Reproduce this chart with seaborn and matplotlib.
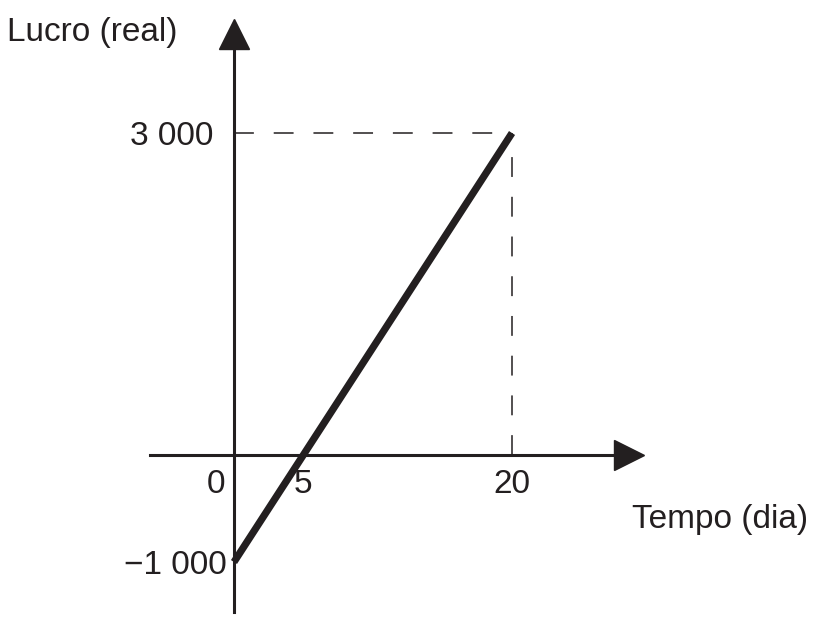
import matplotlib
matplotlib.use("Agg")
import matplotlib.pyplot as plt
import seaborn as sns
import pandas as pd

# Dados do gráfico
dias = [0, 20]
lucro = [-1000, 3000]
xticks = [5, 20]
xtick_labels = ["5", "20"]
yticks = [-1000, 3000]
ytick_labels = ["\u22121 000", "3 000"]

cor = "#231f20"

sns.set_style("white")
plt.rcParams["font.family"] = ["Liberation Sans", "DejaVu Sans"]

df = pd.DataFrame({"Tempo (dia)": dias, "Lucro (real)": lucro})

fig = plt.figure(figsize=(8.18, 6.22), dpi=100)
ax = fig.add_axes([0, 0, 1, 1])
ax.set_xlim(-16.83, 42.01)
ax.set_ylim(-1559.4, 4240.1)

# linhas tracejadas de referência
ax.plot([0, dias[1]], [lucro[1], lucro[1]], color=cor, lw=1.1, dashes=(13, 13))
ax.plot([dias[1], dias[1]], [0, lucro[1]], color=cor, lw=1.1, dashes=(13, 13))

# reta do lucro
sns.lineplot(data=df, x="Tempo (dia)", y="Lucro (real)", color=cor, lw=5.2,
             solid_capstyle="butt", ax=ax)

# eixos
for s in ["top", "right"]:
    ax.spines[s].set_visible(False)
ax.spines["left"].set_position(("data", 0))
ax.spines["bottom"].set_position(("data", 0))
ax.spines["left"].set_bounds(-1466, 3800)
ax.spines["bottom"].set_bounds(-6.04, 27.8)
for s in ["left", "bottom"]:
    ax.spines[s].set_color(cor)
    ax.spines[s].set_linewidth(2.2)

# setas
ax.plot(0, 3923, marker="^", ms=22, color=cor, clip_on=False)
ax.plot(28.45, 0, marker=">", ms=22, color=cor, clip_on=False)

ax.set_xlabel("")
ax.set_ylabel("")
ax.set_xticks(xticks, xtick_labels)
ax.set_yticks(yticks, ytick_labels)
ax.tick_params(length=0, labelsize=24, colors=cor)
ax.tick_params(axis="x", pad=10)
ytk = ax.yaxis.get_major_ticks()
ytk[0].set_pad(5)
ytk[1].set_pad(15)

ax.text(-0.6, 0, "0", ha="right", va="top", fontsize=24, color=cor,
        transform=ax.transData + matplotlib.transforms.ScaledTranslation(0, -10 / 72, fig.dpi_scale_trans))
ax.text(0.009, 0.947, "Lucro (real)", transform=ax.transAxes, ha="left",
        va="center", fontsize=24, color=cor)
ax.text(0.773, 0.164, "Tempo (dia)", transform=ax.transAxes, ha="left",
        va="center", fontsize=24, color=cor)

fig.savefig("out.png", dpi=100)
